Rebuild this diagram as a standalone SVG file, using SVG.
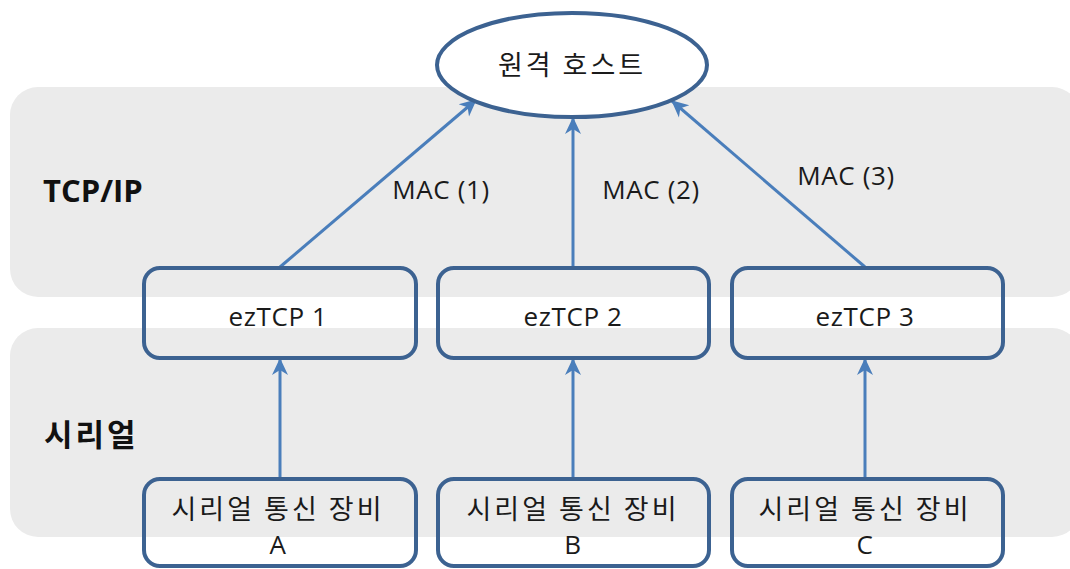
<svg xmlns="http://www.w3.org/2000/svg" width="1070" height="569" viewBox="0 0 1070 569">
<style>
.band{fill:#ebebeb}
.node{fill:#ffffff;fill-opacity:0;stroke:#3c6291;stroke-width:4}
.t{font-family:"Open Sans","Noto Sans CJK KR",sans-serif;font-size:26px;letter-spacing:0.6px;fill:#1a1a1a;text-anchor:middle}
.k{font-family:"Noto Sans CJK KR",sans-serif;font-size:27px;letter-spacing:3px;fill:#1a1a1a;text-anchor:middle}
.lbl{font-family:"Open Sans","Noto Sans CJK KR",sans-serif;font-size:31px;font-weight:bold;fill:#111}
.c{stroke:#4a7ebb;stroke-width:3;fill:none;marker-end:url(#ah)}
</style>
<defs>
<marker id="ah" markerUnits="userSpaceOnUse" markerWidth="18" markerHeight="18" viewBox="0 0 18 18" refX="16" refY="9" orient="auto">
<path d="M0,1 L17,9 L0,17 L5,9 z" fill="#4a7ebb"/>
</marker>
</defs>
<rect width="1070" height="569" fill="#ffffff"/>
<g id="band-tcpip">
<rect class="band" x="10" y="87" width="1070" height="210" rx="28"/>
<text class="lbl" x="43" y="202">TCP/IP</text>
</g>
<g id="band-serial">
<rect class="band" x="10" y="328" width="1070" height="209" rx="28"/>
<text class="lbl" x="44" y="446" letter-spacing="3">시리얼</text>
</g>
<g id="connectors">
<line class="c" x1="280" y1="267" x2="476" y2="100"/>
<line class="c" x1="573" y1="267" x2="573" y2="118"/>
<line class="c" x1="865" y1="267" x2="672" y2="101"/>
<line class="c" x1="280" y1="478" x2="280" y2="359"/>
<line class="c" x1="573" y1="478" x2="573" y2="359"/>
<line class="c" x1="865" y1="478" x2="865" y2="359"/>
<text class="t" x="441" y="199">MAC (1)</text>
<text class="t" x="651" y="199">MAC (2)</text>
<text class="t" x="846" y="185">MAC (3)</text>
</g>
<g id="remote-host">
<ellipse cx="572" cy="65" rx="135" ry="52" fill="#ffffff" stroke="#3c6291" stroke-width="4"/>
<text class="k" x="572" y="75">원격 호스트</text>
</g>
<g id="eztcp1">
<rect class="node" x="144" y="268" width="272" height="90" rx="16"/>
<text class="t" x="278" y="326">ezTCP 1</text>
</g>
<g id="eztcp2">
<rect class="node" x="438" y="268" width="271" height="90" rx="16"/>
<text class="t" x="573" y="326">ezTCP 2</text>
</g>
<g id="eztcp3">
<rect class="node" x="732" y="268" width="271" height="90" rx="16"/>
<text class="t" x="865" y="326">ezTCP 3</text>
</g>
<g id="deviceA">
<rect class="node" x="144" y="479" width="272" height="87" rx="16"/>
<text class="k" x="278" y="519">시리얼 통신 장비</text>
<text class="t" x="278" y="554">A</text>
</g>
<g id="deviceB">
<rect class="node" x="438" y="479" width="271" height="87" rx="16"/>
<text class="k" x="573" y="519">시리얼 통신 장비</text>
<text class="t" x="573" y="554">B</text>
</g>
<g id="deviceC">
<rect class="node" x="732" y="479" width="271" height="87" rx="16"/>
<text class="k" x="865" y="519">시리얼 통신 장비</text>
<text class="t" x="865" y="554">C</text>
</g>
</svg>
